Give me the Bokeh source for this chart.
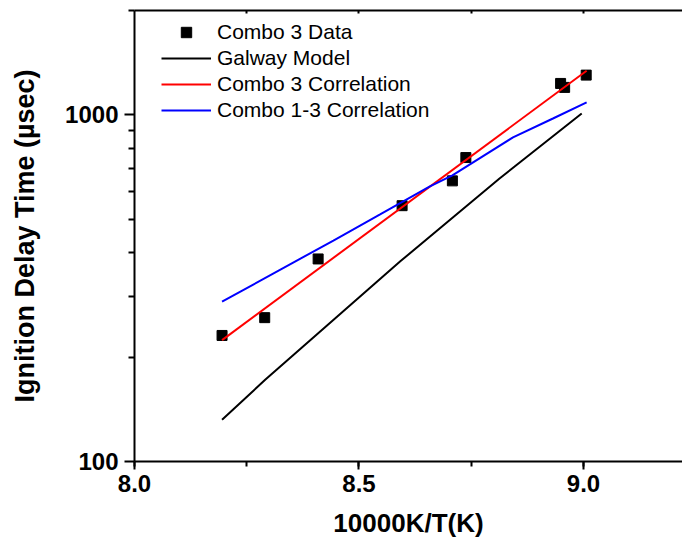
from bokeh.plotting import figure
from bokeh.models import (FixedTicker, SingleIntervalTicker, LinearAxis, Range1d,
                          Legend, LegendItem, PrintfTickFormatter)
from bokeh.embed import file_html
from bokeh.resources import INLINE

# ---- data ----
data_x = [8.195, 8.290, 8.409, 8.596, 8.708, 8.738, 8.949, 8.958, 9.006]
data_y = [231, 260, 384, 547, 645, 753, 1232, 1200, 1302]

galway_x = [8.195, 8.291, 8.592, 8.813, 8.996]
galway_y = [132, 172, 378, 655, 1009]

combo3_x = [8.195, 9.007]
combo3_y = [224, 1340]

combo13_x = [8.195, 8.443, 8.547, 8.658, 8.708, 8.843, 8.932, 9.007]
combo13_y = [289, 434, 516, 622, 669, 861, 976, 1086]

y_major = [100, 1000]
y_minor = [200, 300, 400, 500, 600, 700, 800, 900, 2000]
y_labels = {100: "100", 1000: "1000"}
top_ticks = [8.25, 8.5, 8.75, 9.0]

FONT = "Liberation Sans"

p = figure(width=682, height=546, output_backend="svg", toolbar_location=None,
           y_axis_type="log",
           x_range=Range1d(8.0, 9.2205), y_range=Range1d(100, 2000),
           min_border_left=134, min_border_right=0, min_border_top=10,
           min_border_bottom=85)
p.outline_line_color = None
p.xgrid.visible = False
p.ygrid.visible = False
p.background_fill_color = "white"
p.border_fill_color = "white"

r_data = p.scatter(data_x, data_y, marker="square", size=10, color="black")
r_gal = p.line(galway_x, galway_y, line_color="black", line_width=2)
r_c3 = p.line(combo3_x, combo3_y, line_color="red", line_width=2)
r_c13 = p.line(combo13_x, combo13_y, line_color="blue", line_width=2)

# x axis
xa = p.xaxis[0]
xa.ticker = SingleIntervalTicker(interval=0.5, num_minor_ticks=2)
xa.formatter = PrintfTickFormatter(format="%.1f")
xa.axis_line_width = 2
xa.major_tick_line_width = 2
xa.minor_tick_line_width = 2
xa.major_tick_out = 8
xa.major_tick_in = 0
xa.minor_tick_out = 5
xa.minor_tick_in = 0
xa.major_label_text_font = FONT
xa.major_label_text_font_style = "bold"
xa.major_label_text_font_size = "24px"
xa.major_label_text_color = "black"
xa.major_label_standoff = 5
xa.axis_label = "10000K/T(K)"
xa.axis_label_text_font = FONT
xa.axis_label_text_font_style = "bold"
xa.axis_label_text_font_size = "26px"
xa.axis_label_text_color = "black"
xa.axis_label_standoff = 13

# y axis
ya = p.yaxis[0]
ya.ticker = FixedTicker(ticks=y_major, minor_ticks=y_minor)
ya.major_label_overrides = y_labels
ya.axis_line_width = 2
ya.major_tick_line_width = 2
ya.minor_tick_line_width = 2
ya.major_tick_out = 10
ya.major_tick_in = 0
ya.minor_tick_out = 6
ya.minor_tick_in = 0
ya.major_label_text_font = FONT
ya.major_label_text_font_style = "bold"
ya.major_label_text_font_size = "24px"
ya.major_label_text_color = "black"
ya.major_label_standoff = 6
ya.axis_label = "Ignition Delay Time (µsec)"
ya.axis_label_text_font = FONT
ya.axis_label_text_font_style = "bold"
ya.axis_label_text_font_size = "27px"
ya.axis_label_text_color = "black"
ya.axis_label_standoff = 22

# top axis: frame line with tiny inward ticks, no labels
top = LinearAxis(ticker=FixedTicker(ticks=[], minor_ticks=top_ticks))
top.axis_line_width = 2
top.minor_tick_in = 3
top.minor_tick_out = 0
top.minor_tick_line_width = 2
top.major_label_standoff = 0
p.add_layout(top, "above")

legend = Legend(items=[
    LegendItem(label="Combo 3 Data", renderers=[r_data]),
    LegendItem(label="Galway Model", renderers=[r_gal]),
    LegendItem(label="Combo 3 Correlation", renderers=[r_c3]),
    LegendItem(label="Combo 1-3 Correlation", renderers=[r_c13]),
], location=(27, 338))
legend.padding = 0
legend.margin = 0
legend.spacing = 0
legend.glyph_width = 50
legend.glyph_height = 26
legend.label_height = 26
legend.label_standoff = 6
legend.label_text_font = FONT
legend.label_text_font_size = "21px"
legend.label_text_color = "black"
legend.border_line_color = None
legend.background_fill_alpha = 0
p.add_layout(legend)

open("out.html", "w").write(file_html(p, INLINE))
